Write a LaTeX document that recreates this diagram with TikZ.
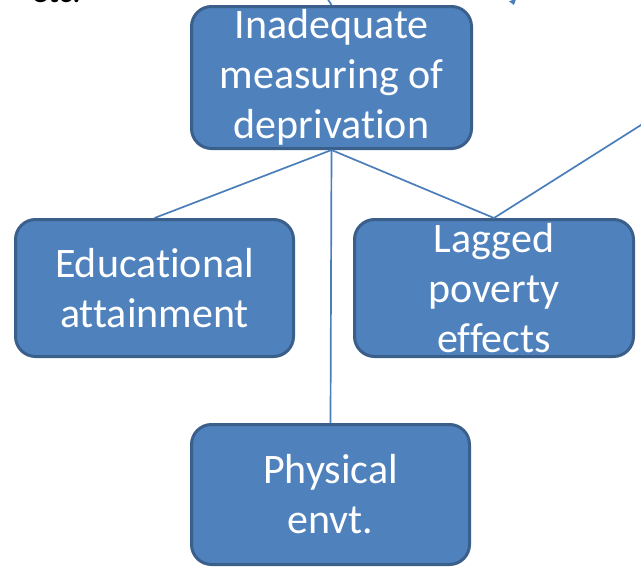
\documentclass[tikz,border=0pt]{standalone}
\usepackage{fontspec}
\setmainfont[Ligatures=NoCommon]{Carlito}
\usepackage{tikz}
\usetikzlibrary{arrows.meta}
\definecolor{boxfill}{HTML}{4F81BD}
\definecolor{boxline}{HTML}{3A5F8B}
\definecolor{linkcol}{HTML}{4A7EBB}

\begin{document}
\begin{tikzpicture}[x=1pt,y=-1pt,
    causebox/.style={draw=boxline, line width=3pt, fill=boxfill, rounded corners=20pt,
        text=white, align=center, inner sep=0pt,
        font=\fontsize{42}{50}\selectfont},
    link/.style={draw=linkcol, line width=1.7pt}]
\useasboundingbox (0,0) rectangle (641,571);

\node (etc) [anchor=base west, font=\fontsize{33}{40}\selectfont] at (28,2) {etc.};

\node[causebox, minimum width=280pt, minimum height=142pt] (inadeq) at (331.5,77.5)
    {Inadequate\\measuring of\\deprivation};
\node[causebox, minimum width=278pt, minimum height=137pt] (edu) at (154.5,288)
    {Educational\\attainment};
\node[causebox, minimum width=279pt, minimum height=137pt] (lagged) at (494,288)
    {Lagged\\poverty\\effects};
\node[causebox, minimum width=278pt, minimum height=140pt] (phys) at (330.5,494.5)
    {Physical\\envt.};

\coordinate (offright) at (660,113);
\coordinate (offtop) at (322,-10);
\coordinate (tipfrom) at (506,-20);
\coordinate (tipto) at (514,5);

\foreach \n in {edu,lagged,phys}
    {\draw[link] (inadeq.south) -- (\n.north);}
\draw[link] (lagged.north) -- (offright);
\draw[link] (offtop) -- (inadeq.north);
\draw[link, -{Triangle[width=7pt,length=5pt]}, linkcol] (tipfrom) -- (tipto);
\end{tikzpicture}
\end{document}
